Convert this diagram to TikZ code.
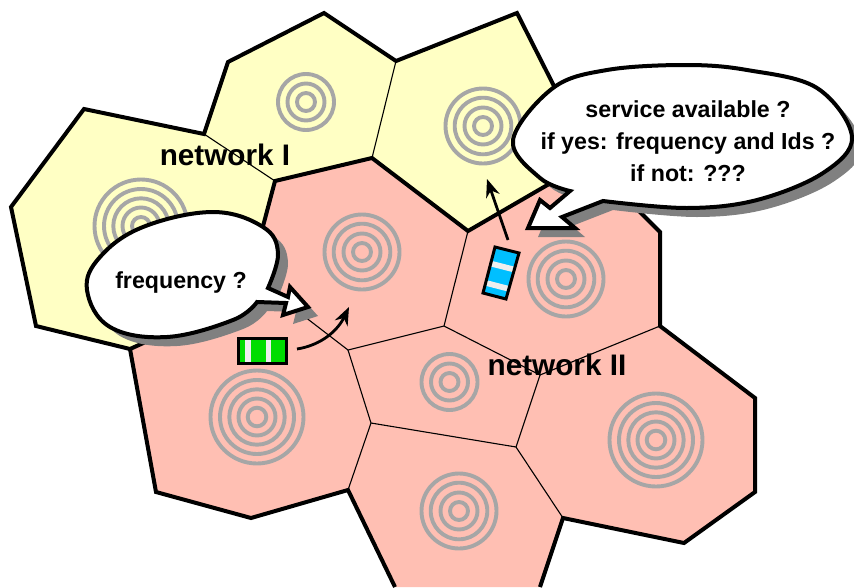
\documentclass[tikz,border=0pt]{standalone}
\usepackage{fontspec}
\setmainfont{Liberation Sans}
\usetikzlibrary{arrows.meta}
\definecolor{cellyellow}{HTML}{FFFFC4}
\definecolor{cellred}{HTML}{FFBFB3}
\definecolor{ringgray}{HTML}{A6A6A6}
\definecolor{shadowgray}{HTML}{808080}
\definecolor{cargreen}{HTML}{00DD00}
\definecolor{carblue}{HTML}{00BFFF}
\definecolor{stripe}{HTML}{EEEEEE}
\tikzset{
  outer/.style={line width=4pt,line join=miter,miter limit=4},
  inner/.style={line width=1.1pt},
  ring/.style={draw=ringgray,line width=3.9pt},
  bubble/.style={draw=black,fill=white,line width=4pt,line join=miter},
  bigtext/.style={font=\fontsize{29.7}{32}\selectfont\bfseries,inner sep=0pt},
  smalltext/.style={font=\fontsize{23.2}{32}\selectfont\bfseries,align=center,inner sep=0pt},
  move/.style={line width=2.8pt,-{Stealth[length=18pt,width=14pt]}},
  car/.style={draw=black,line width=3pt},
}
\newcommand{\rings}[4]{\foreach \r in {#4}{\draw[ring] (#1,#2) circle[radius=\r];}}
\newcommand{\freqpath}{
  plot[smooth,tension=.65] coordinates {(268,288) (278,253) (263,227) (213,212) (143,227) (100,257) (87,290) (110,327) (167,337) (233,320) (257,302)}
  -- (286,303) -- (283,315) -- (308,307) -- (290,287) -- (288,297) -- cycle}
\newcommand{\servpath}{
  plot[smooth,tension=.6] coordinates {(570,191) (540,178) (513,140) (553,88) (607,70) (685,65) (747,70) (817,88) (852,137) (823,173) (757,200) (687,208) (603,201)}
  -- (562,217) -- (575,228) -- (528,228) -- (540,200) -- (550,208) -- cycle}
\begin{document}
\begin{tikzpicture}[x=1pt,y=-1pt]
\useasboundingbox (0,0) rectangle (854,587);
% cells
\fill[cellyellow] (84,109) -- (204,134) -- (228,62) -- (324,13) -- (396,61) -- (517,13) -- (553,85) -- (600,160) -- (556,180) -- (468,231) -- (372,158) -- (275,181) -- (262,230) -- (150,340) -- (130,349) -- (36,326) -- (11,207) -- cycle;
\fill[cellred] (275,181) -- (372,158) -- (468,231) -- (556,180) -- (640,205) -- (647,218) -- (660,232) -- (660,326) -- (755,398) -- (755,492) -- (684,543) -- (563,518) -- (540,587) -- (395,587) -- (348,490) -- (251,518) -- (156,492) -- (130,349) -- (150,340) -- (262,230) -- cycle;
% thin borders
\draw[inner] (204,134) -- (275,181);
\draw[inner] (396,61) -- (372,158);
\draw[inner] (270,290) -- (348,350) -- (444,326) -- (468,231);
\draw[inner] (348,350) -- (371,423) -- (516,447) -- (540,375) -- (444,326);
\draw[inner] (540,375) -- (660,326);
\draw[inner] (371,423) -- (348,490);
\draw[inner] (516,447) -- (563,518);
% thick borders
\draw[outer] (150,340) -- (130,349) -- (36,326) -- (11,207) -- (84,109) -- (204,134) -- (228,62) -- (324,13) -- (396,61) -- (517,13) -- (556,90);
\draw[outer] (262,230) -- (275,181) -- (372,158) -- (468,231) -- (556,180);
\draw[outer] (130,349) -- (156,492) -- (251,518) -- (348,490) -- (395,587);
\draw[outer] (540,587) -- (563,518) -- (684,543) -- (755,492) -- (755,398) -- (660,326) -- (660,232) -- (636,208);
% antennas
\rings{306}{102}{}{9,18.5,28}
\rings{483}{126}{}{9,18.5,28.3,37.5}
\rings{141}{226}{}{9,18.5,27.7,37,46.5}
\rings{362}{252}{}{9,18.5,28.3,37.5}
\rings{566}{279}{}{9,18.5,28.3,37.5}
\rings{449.5}{382}{}{9,18.5,28}
\rings{257}{417}{}{9.3,18.5,27.7,37,46.5}
\rings{656}{440}{}{9.3,18.5,27.7,37,46.5}
\rings{459}{511}{}{9,18.5,28.3,37.5}
% labels of networks
\node[bigtext,anchor=base] (netone) at (225,165) {network I};
\node[bigtext,anchor=base] (nettwo) at (557,375) {network II};
% bubbles
\begin{scope}[shift={(10,9)}]
\fill[shadowgray] \freqpath;
\fill[shadowgray] \servpath;
\end{scope}
\draw[bubble] \freqpath;
\draw[bubble] \servpath;
\node[smalltext,anchor=base] (freq) at (181,288) {frequency ?};
\node[smalltext] (serv) at (688,141) {service available ?\\if yes: frequency and Ids ?\\if not: ???};
% green terminal
\fill[cargreen] (238,338) rectangle (286,363);
\fill[stripe] (245,338) rectangle (251,363);
\fill[stripe] (266,338) rectangle (271,363);
\draw[car] (238,338) rectangle (286,363);
% blue terminal
\fill[carblue] (495,247) -- (519,253) -- (506,299) -- (483,293) -- cycle;
\fill[stripe] (491.4,260.8) -- (515.1,266.8) -- (513.5,272.3) -- (490,266.3) -- cycle;
\fill[stripe] (486.4,280.1) -- (509.6,286.1) -- (508.1,291.6) -- (484.9,285.6) -- cycle;
\draw[car] (495,247) -- (519,253) -- (506,299) -- (483,293) -- cycle;
% movements
\coordinate (gstart) at (297,349);
\coordinate (gend) at (349,307);
\coordinate (bstart) at (508,240);
\coordinate (bend) at (487,179);
\draw[move] (gstart) .. controls (322,345) and (338,330) .. (gend);
\draw[move] (bstart) -- (bend);
\end{tikzpicture}
\end{document}
